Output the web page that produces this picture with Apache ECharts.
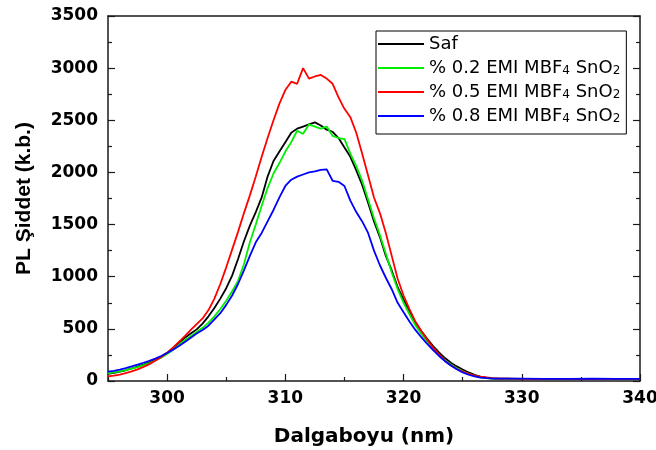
<!DOCTYPE html>
<html><head><meta charset="utf-8">
<script src="https://cdn.jsdelivr.net/npm/echarts@6/dist/echarts.min.js"></script>
<style>html,body{margin:0;padding:0;background:#fff}#c{width:656px;height:450px}</style>
</head><body><div id="c"></div>
<script>
const wavelengths = [295,295.5,296,296.5,297,297.5,298,298.5,299,299.5,
  300,300.5,301,301.5,302,302.5,303,303.5,304,304.5,
  305,305.5,306,306.5,307,307.5,308,308.5,309,309.5,
  310,310.5,311,311.5,312,312.5,313,313.5,314,314.5,
  315,315.5,316,316.5,317,317.5,318,318.5,319,319.5,
  320,320.5,321,321.5,322,322.5,323,323.5,324,324.5,
  325,325.5,326,326.5,327,327.5,328,329,330,332,334,336,338,340];
const saf = [68,78,90,103,120,138,158,180,205,235,
  270,318,365,415,455,495,550,620,700,790,
  890,1010,1170,1340,1490,1620,1760,1960,2110,2200,
  2290,2380,2420,2440,2460,2480,2450,2410,2390,2330,
  2240,2150,2020,1880,1710,1530,1380,1200,1060,900,
  780,670,560,480,405,335,275,220,175,140,
  110,82,60,43,32,26,23,22,21,21,20,21,20,20];
const pct02 = [74,82,92,104,118,134,152,172,196,224,
  258,300,345,390,430,470,510,560,620,690,
  770,860,960,1120,1330,1500,1680,1850,1990,2090,
  2200,2290,2400,2370,2460,2440,2420,2440,2350,2330,
  2320,2180,2060,1920,1740,1560,1400,1220,1040,880,
  750,640,535,450,375,310,250,200,158,122,
  92,68,50,36,28,24,22,21,20,20,19,20,19,19];
const pct05 = [45,52,62,75,92,112,135,162,195,230,
  270,320,375,430,490,545,600,680,790,930,
  1090,1260,1430,1610,1780,1960,2150,2330,2500,2660,
  2790,2870,2850,3000,2900,2920,2935,2900,2850,2720,
  2610,2530,2380,2180,1970,1760,1610,1420,1200,980,
  820,690,570,480,395,320,255,195,150,115,
  90,68,52,42,35,28,24,22,21,20,20,21,20,20];
const pct08 = [89,98,110,124,140,157,175,194,215,240,
  268,300,335,375,415,455,490,530,590,650,
  730,820,930,1060,1200,1330,1420,1530,1640,1760,
  1870,1930,1960,1980,2000,2010,2025,2030,1920,1910,
  1870,1730,1620,1530,1420,1250,1110,990,880,750,
  660,570,490,420,355,297,240,190,148,112,
  82,60,44,33,27,24,22,22,22,21,21,22,21,21];
const seriesNames = ['Saf','% 0.2 EMIMBF4 SnO2','% 0.5 EMIMBF4 SnO2','% 0.8 EMIMBF4 SnO2'];
const seriesValues = [saf, pct02, pct05, pct08];
const seriesColors = ['#000000','#00ee00','#ff0000','#0000ff'];
const xMajorTicks = [300,310,320,330,340];
const xMinorTicks = [295,305,315,325,335];
const xTitle = 'Dalgaboyu (nm)';
const yTitle = 'PL Şiddet (k.b.)';

const chart = echarts.init(document.getElementById('c'), null, {renderer:'canvas'});
const axisColor = '#1a1a1a';
const tickFont = {fontFamily:'DejaVu Sans', fontWeight:'bold', fontSize:17, color:'#000'};
const series = seriesNames.map((n,i)=>({
  name:n, type:'line', showSymbol:false, symbol:'none', animation:false,
  color: seriesColors[i],
  lineStyle:{width:1.8, color:seriesColors[i]},
  data: wavelengths.map((w,j)=>[w, seriesValues[i][j]])
}));
chart.setOption({
  animation:false,
  grid:{left:108, right:16, top:16, bottom:69, containLabel:false, outerBoundsMode:'none'},
  legend:{
    orient:'vertical', left:376, top:31, icon:'rect', itemWidth:46, itemHeight:2, itemGap:6,
    borderColor:'#000', borderWidth:1, borderRadius:0, padding:[4,6,9,2],
    textStyle:{fontFamily:'DejaVu Sans', fontSize:18, color:'#000', lineHeight:17,
      rich:{s:{fontFamily:'DejaVu Sans', fontSize:12, color:'#000', verticalAlign:'bottom', padding:[7,0,0,0]}}},
    formatter: n => n.replace('EMIMBF4','EMI MBF{s|4}').replace('SnO2','SnO{s|2}'),
    data: seriesNames
  },
  xAxis:[
    {type:'value', min:295, max:340, interval:5, position:'bottom',
     axisLine:{show:true, onZero:false, lineStyle:{color:axisColor, width:1.5}},
     axisTick:{show:true, inside:true, length:7, customValues:xMajorTicks, lineStyle:{color:axisColor, width:1.2}},
     axisLabel:Object.assign({margin:9, customValues:xMajorTicks}, tickFont),
     splitLine:{show:false},
     name:xTitle, nameLocation:'middle', nameGap:46,
     nameTextStyle:{fontFamily:'DejaVu Sans', fontWeight:'bold', fontSize:20, color:'#000', padding:[0,20,0,0]}},
    {type:'value', min:295, max:340, interval:5, position:'bottom',
     axisLine:{show:false},
     axisTick:{show:true, inside:true, length:4, customValues:xMinorTicks, lineStyle:{color:axisColor, width:1.2}},
     axisLabel:{show:false}, splitLine:{show:false}},
    {type:'value', min:295, max:340, interval:5, position:'top',
     axisLine:{show:true, onZero:false, lineStyle:{color:axisColor, width:1.5}},
     axisTick:{show:false}, axisLabel:{show:false}, splitLine:{show:false}}
  ],
  yAxis:[
    {type:'value', min:0, max:3500, interval:500, position:'left',
     axisLine:{show:true, onZero:false, lineStyle:{color:axisColor, width:1.5}},
     axisTick:{show:true, inside:true, length:7, lineStyle:{color:axisColor, width:1.2}},
     minorTick:{show:true, splitNumber:2, length:4, lineStyle:{color:axisColor, width:1.2}},
     axisLabel:Object.assign({margin:10, formatter: v => String(v)}, tickFont),
     splitLine:{show:false},
     name:yTitle, nameLocation:'middle', nameGap:73,
     nameTextStyle:{fontFamily:'Liberation Sans', fontWeight:'bold', fontSize:21, color:'#000'}},
    {type:'value', min:0, max:3500, interval:500, position:'right',
     axisLine:{show:true, onZero:false, lineStyle:{color:axisColor, width:1.5}},
     axisTick:{show:true, inside:true, length:7, lineStyle:{color:axisColor, width:1.2}},
     minorTick:{show:true, splitNumber:2, length:4, lineStyle:{color:axisColor, width:1.2}},
     axisLabel:{show:false}, splitLine:{show:false}}
  ],
  series: series
});
</script></body></html>
